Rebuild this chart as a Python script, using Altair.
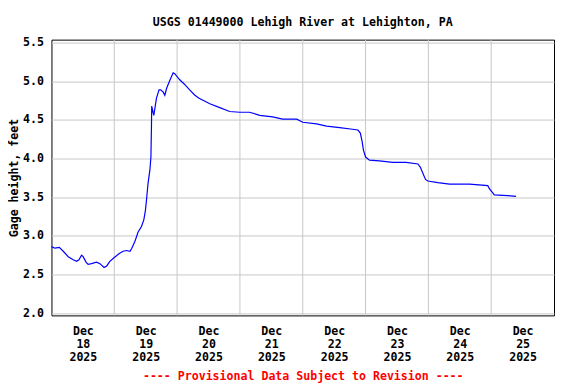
import altair as alt
import pandas as pd

# hours after 2025-12-18 00:00 (local) and gage height in feet
hours = [0.0, 1.3, 3.0, 4.5, 6.4, 8.3, 9.6, 10.5, 11.5, 12.1, 13.2, 14.0, 15.3, 17.2, 18.5,
         20.1, 21.1, 22.3, 24.0, 25.9, 27.4, 28.7, 30.0, 30.7, 31.9, 33.1, 34.4, 35.3, 35.9,
         36.3, 36.9, 37.6, 38.0, 38.2, 38.3, 38.8, 39.1, 39.6, 40.1, 41.1, 41.7, 42.7, 43.3,
         44.0, 45.2, 46.5, 47.1, 49.0, 50.9, 52.8, 54.8, 56.4, 60.5, 64.3, 68.1, 71.9, 75.7,
         79.6, 84.5, 88.3, 93.7, 96.0, 101.3, 105.1, 110.1, 115.0, 117.1, 118.0, 118.7, 119.2,
         120.0, 121.5, 125.3, 130.4, 135.5, 140.0, 140.9, 141.9, 142.9, 143.8, 147.6, 152.1,
         159.7, 166.7, 167.3, 168.3, 169.2, 174.3, 177.5]
gage = [2.86, 2.84, 2.85, 2.80, 2.73, 2.69, 2.67, 2.69, 2.75, 2.73, 2.66, 2.63, 2.64, 2.66, 2.64,
        2.59, 2.61, 2.67, 2.72, 2.77, 2.80, 2.81, 2.80, 2.84, 2.93, 3.05, 3.12, 3.21, 3.33,
        3.46, 3.68, 3.85, 4.02, 4.41, 4.68, 4.60, 4.56, 4.67, 4.78, 4.89, 4.89, 4.86, 4.82,
        4.91, 5.01, 5.11, 5.10, 5.02, 4.96, 4.89, 4.82, 4.78, 4.71, 4.66, 4.61, 4.60, 4.60,
        4.56, 4.54, 4.51, 4.51, 4.47, 4.45, 4.42, 4.40, 4.38, 4.37, 4.33, 4.22, 4.11,
        4.02, 3.98, 3.97, 3.95, 3.95, 3.93, 3.89, 3.81, 3.73, 3.71, 3.69, 3.67,
        3.67, 3.65, 3.61, 3.57, 3.53, 3.52, 3.51]

grid_days = ["2025-12-19", "2025-12-20", "2025-12-21", "2025-12-22",
             "2025-12-23", "2025-12-24", "2025-12-25"]
label_days = [18, 19, 20, 21, 22, 23, 24, 25]
y_ticks = [2.0, 2.5, 3.0, 3.5, 4.0, 4.5, 5.0, 5.5]

FONT = "DejaVu Sans Mono"
FS = 11.6

base = pd.Timestamp("2025-12-18 00:00")
df = pd.DataFrame({
    "time": [(base + pd.Timedelta(hours=h)).strftime("%Y-%m-%dT%H:%M:%S") for h in hours],
    "gage": gage,
})
grid_df = pd.DataFrame({"time": [d + "T00:00:00" for d in grid_days]})

x_scale = alt.Scale(domain=[alt.DateTime(year=2025, month=12, date=18, hours=0),
                            alt.DateTime(year=2025, month=12, date=26, hours=0)])
y_scale = alt.Scale(domain=[1.97, 5.54], nice=False, zero=False)

x_axis = alt.Axis(
    values=[alt.DateTime(year=2025, month=12, date=d, hours=12) for d in label_days],
    labelExpr="[timeFormat(datum.value, '%b'), timeFormat(datum.value, '%d'), timeFormat(datum.value, '%Y')]",
    labelLineHeight=13, labelPadding=10, labelFont=FONT, labelFontSize=FS,
    labelFontWeight="bold", labelColor="black", ticks=False, domain=False, grid=False,
    title="---- Provisional Data Subject to Revision ----",
    titleColor="red", titleFont=FONT, titleFontSize=FS, titleFontWeight="bold",
    titlePadding=8, labelFlush=False, labelOverlap=False,
)
y_axis = alt.Axis(
    values=y_ticks, format=".1f", labelFont=FONT, labelFontSize=FS, labelFontWeight="bold",
    labelColor="black", labelPadding=8, ticks=False, domain=False, grid=True,
    gridColor="#c8c8c8", gridWidth=1,
    title="Gage height, feet", titleFont=FONT, titleFontSize=FS, titleFontWeight="bold",
    titleColor="black", titlePadding=3,
)

grid = alt.Chart(grid_df).mark_rule(color="#c8c8c8", strokeWidth=1).encode(
    x=alt.X("time:T", scale=x_scale, axis=x_axis)
)

line = alt.Chart(df).mark_line(color="#0000ff", strokeWidth=1.2).encode(
    x=alt.X("time:T", scale=x_scale, axis=x_axis),
    y=alt.Y("gage:Q", scale=y_scale, axis=y_axis),
)

chart = alt.layer(grid, line).properties(
    width=503, height=276,
    padding={"left": 43.5, "top": 31.5, "right": 14, "bottom": 67},
    autosize=alt.AutoSizeParams(type="none"),
    title=alt.TitleParams(
        "USGS 01449000 Lehigh River at Lehighton, PA", font=FONT, fontSize=FS,
        fontWeight="bold", color="black", anchor="middle", baseline="bottom", offset=-3,
    ),
).configure_view(stroke="black", strokeWidth=1)

chart.save("out.html", embed_options={"renderer": "svg", "actions": False})
